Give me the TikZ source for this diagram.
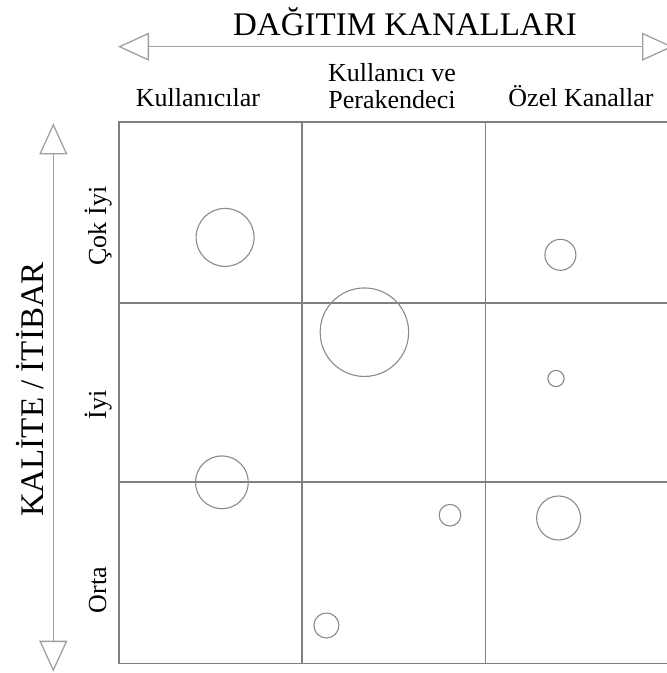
\documentclass[tikz,border=0pt]{standalone}
\usepackage{fontspec}
\setmainfont{Liberation Serif}
\usetikzlibrary{arrows.meta}
\definecolor{axisgray}{HTML}{A0A0A0}
\definecolor{gridgray}{HTML}{808080}
\definecolor{bubblegray}{HTML}{8A8A8A}
\begin{document}
\begin{tikzpicture}[x=1pt,y=-1pt,
  axis/.style={draw=axisgray, line width=1.3pt,
    {Triangle[open,length=31pt,width=28pt]}-{Triangle[open,length=31pt,width=28pt]}},
  gridline/.style={draw=gridgray, line width=1.1pt},
  bubble/.style={circle, draw=bubblegray, line width=1.1pt, inner sep=0pt, minimum size=#1},
  bigtext/.style={font=\fontsize{33}{36}\selectfont, inner sep=0pt},
  label/.style={font=\fontsize{26}{26.6}\selectfont, inner sep=0pt},
]
\useasboundingbox (0,0) rectangle (667,673);

% axis arrows
\coordinate (hl) at (118,46.7);
\coordinate (hr) at (673,46.7);
\coordinate (vt) at (53.3,123.3);
\coordinate (vb) at (53.3,671.7);
\draw[axis] (hl) -- (hr);
\draw[axis] (vt) -- (vb);

% axis titles
\node[bigtext, anchor=base] (xtitle) at (405,35) {DAĞITIM KANALLARI};
\node[bigtext, anchor=base, rotate=90] (ytitle) at (43.3,389.5) {KALİTE / İTİBAR};

% column headings
\node[label, anchor=base] (col1) at (198,106.7) {Kullanıcılar};
\node[label, anchor=base] (col2a) at (392,81.7) {Kullanıcı ve};
\node[label, anchor=base] (col2b) at (392,108.3) {Perakendeci};
\node[label, anchor=base] (col3) at (581,106.7) {Özel Kanallar};

% row headings
\node[label, anchor=base, rotate=90] (row1) at (106,226) {Çok İyi};
\node[label, anchor=base, rotate=90] (row2) at (106,405) {İyi};
\node[label, anchor=base, rotate=90] (row3) at (106,590) {Orta};

% 3x3 grid
\draw[gridline] (119,122) rectangle (669,663.5);
\draw[gridline] (302,122) -- (302,663.5);
\draw[gridline] (485.5,122) -- (485.5,663.5);
\draw[gridline] (119,303) -- (669,303);
\draw[gridline] (119,482) -- (669,482);

% bubbles
\node[bubble=58pt] (c1) at (225.1,237.4) {};
\node[bubble=31pt] (c2) at (560.4,254.8) {};
\node[bubble=88.5pt] (c3) at (364.4,332.2) {};
\node[bubble=16.2pt] (c4) at (556,378.5) {};
\node[bubble=52.8pt] (c5) at (221.9,482.3) {};
\node[bubble=21.6pt] (c6) at (450,515.2) {};
\node[bubble=44pt] (c7) at (558.6,518) {};
\node[bubble=25pt] (c8) at (326.4,625.5) {};
\end{tikzpicture}
\end{document}
